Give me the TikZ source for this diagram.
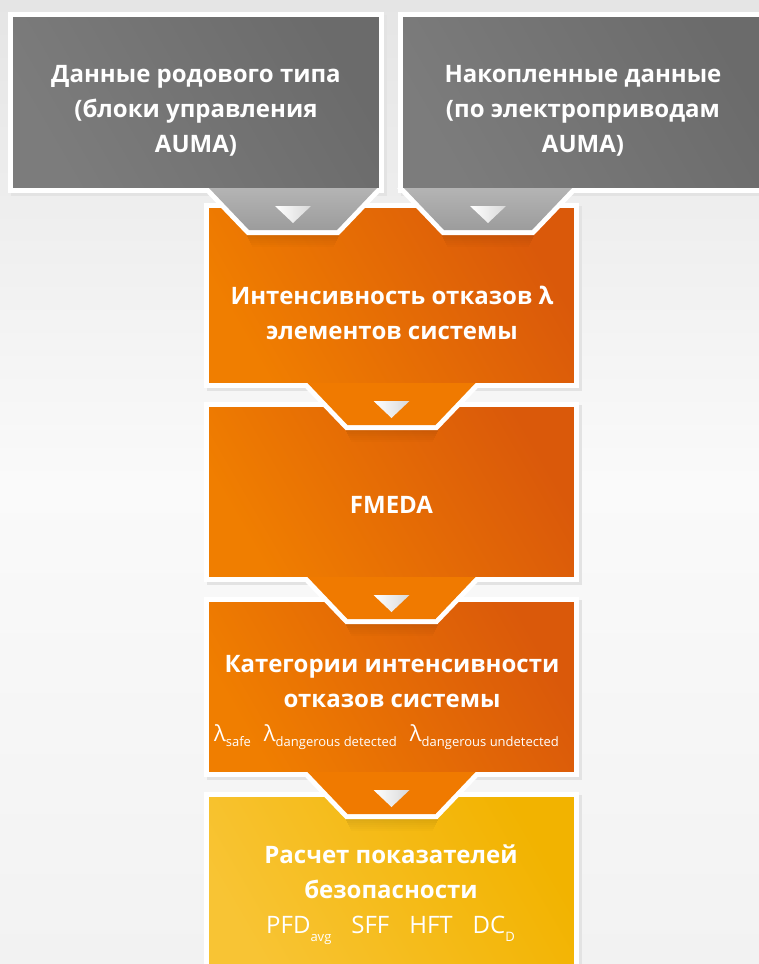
\documentclass[tikz,border=0pt]{standalone}
\usepackage{fontspec}
\setmainfont{Open Sans}
\usetikzlibrary{calc}
\definecolor{bgtop}{HTML}{E5E5E5}
\definecolor{bgmid}{HTML}{FAFAFA}
\definecolor{bgbot}{HTML}{F2F2F2}
\definecolor{grayL}{HTML}{7C7C7C}
\definecolor{grayR}{HTML}{6B6B6B}
\definecolor{graytabT}{HTML}{B4B4B4}
\definecolor{graytabB}{HTML}{9C9C9C}
\definecolor{orL}{HTML}{F07E00}
\definecolor{orR}{HTML}{DA590A}
\definecolor{ortab}{HTML}{F07A00}
\definecolor{yeL}{HTML}{F8C434}
\definecolor{yeR}{HTML}{F2B300}
\definecolor{triR}{HTML}{D8D8D8}
\newcommand\lsub[1]{λ\raisebox{-5pt}{\fontsize{13}{13}\selectfont #1}}
\newcommand\psub[1]{\raisebox{-8pt}{\fontsize{13}{13}\selectfont #1}}
% tab: #1 centre x, #2 top y, #3 fill options
\newcommand\flowtab[3]{%
  \foreach \i in {0,...,5}{%
    \fill[black, fill opacity={0.09-0.015*\i}]
      (#1-46+\i,#2+47+2*\i) rectangle (#1+46-\i,#2+49+2*\i);}
  \fill[white] (#1-91,#2) -- (#1+91,#2) -- (#1+46,#2+47) -- (#1-46,#2+47) -- cycle;
  \path[#3] (#1-84,#2) -- (#1+84,#2) -- (#1+44,#2+42) -- (#1-44,#2+42) -- cycle;
  \path[left color=white, right color=triR] (#1-18,#2+18) -- (#1+18,#2+18) -- (#1,#2+35) -- cycle;
}
\begin{document}
\begin{tikzpicture}[x=1pt,y=-1pt,
  box/.style={rectangle, inner sep=0pt, draw=white, line width=5pt,
    preaction={draw=black!11, line width=5pt, transform canvas={shift={(2.5pt,-2.5pt)}}}},
  graybox/.style={box, left color=grayL, right color=grayR, shading angle=120},
  orbox/.style={box, left color=orL, right color=orR, shading angle=120},
  yebox/.style={box, left color=yeL, right color=yeR, shading angle=120},
  btext/.style={text=white, align=center, inner sep=0pt,
    font=\fontsize{24}{35}\selectfont\bfseries},
  rtext/.style={text=white, inner sep=0pt},
  graytab/.style={top color=graytabT, bottom color=graytabB},
  ortabst/.style={fill=ortab}]
\useasboundingbox (0,0) rectangle (759,964);
\path[top color=bgtop, bottom color=bgbot, middle color=bgmid] (0,0) rectangle (759,964);

% boxes (inner size + 5)
\node[graybox, minimum width=371pt, minimum height=176pt] (gl) at (196,102.5) {};
\node[graybox, minimum width=372pt, minimum height=176pt] (gr) at (586.5,102.5) {};
\node[orbox, minimum width=370pt, minimum height=180pt] (o1) at (391.5,295.5) {};
\node[orbox, minimum width=370pt, minimum height=175pt] (o2) at (391.5,492) {};
\node[orbox, minimum width=370pt, minimum height=175pt] (o3) at (391.5,687) {};
\node[yebox, minimum width=370pt, minimum height=188pt] (y4) at (391.5,888.5) {};

% connector tabs
\flowtab{293}{188}{graytab}
\flowtab{488}{188}{graytab}
\flowtab{391.5}{383}{ortabst}
\flowtab{391.5}{577}{ortabst}
\flowtab{391.5}{772}{ortabst}

% texts (base anchor = baseline of the last line)
\node[btext, anchor=base] (tgl) at (196,152) {Данные родового типа\\(блоки управления\\AUMA)};
\node[btext, anchor=base] (tgr) at (583,152) {Накопленные данные\\(по электроприводам\\AUMA)};
\node[btext, anchor=base] (t1) at (392,339) {Интенсивность отказов λ\\элементов системы};
\node[btext, anchor=base] (t2) at (391.5,513) {FMEDA};
\node[btext, anchor=base] (t3) at (392,707) {Категории интенсивности\\отказов системы};
\node[rtext, anchor=base, font=\fontsize{22}{22}\selectfont] (lam) at (386.5,741)
  {\lsub{safe}\hspace{13pt}\lsub{dangerous detected}\hspace{13pt}\lsub{dangerous undetected}};
\node[btext, anchor=base] (t4) at (391,898) {Расчет показателей\\безопасности};
\node[rtext, anchor=base, font=\fontsize{24}{24}\selectfont] (pfd) at (390.5,933)
  {PFD\psub{avg}\hspace{20pt}SFF\hspace{20pt}HFT\hspace{20pt}DC\psub{D}};
\end{tikzpicture}
\end{document}
